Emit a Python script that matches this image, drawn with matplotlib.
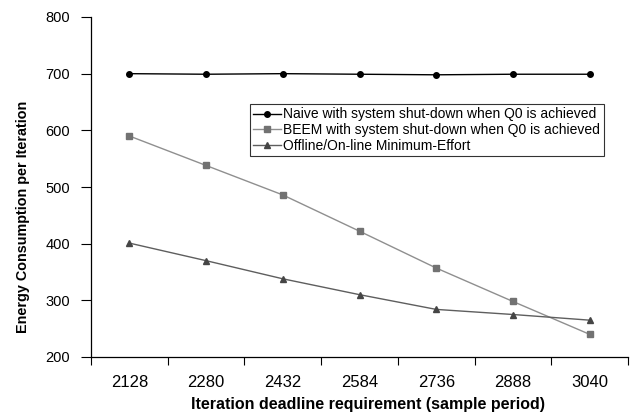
import matplotlib
matplotlib.use("Agg")
import matplotlib.pyplot as plt
import numpy as np

categories = ["2128", "2280", "2432", "2584", "2736", "2888", "3040"]
naive = [700, 699, 700, 699, 698, 699, 699]
beem = [590, 538, 486, 422, 357, 298, 240]
offline = [401, 370, 338, 310, 284, 275, 265]
labels = ["Naive with system shut-down when Q0 is achieved",
          "BEEM with system shut-down when Q0 is achieved",
          "Offline/On-line Minimum-Effort"]
yticks = [200, 300, 400, 500, 600, 700, 800]

plt.rcParams['font.family'] = ['Liberation Sans', 'DejaVu Sans']

W, H = 634, 418
L, R, T, B = 91, 628, 17, 357
fig = plt.figure(figsize=(W / 100, H / 100), dpi=100)
ax = fig.add_axes([L / W, (H - B) / H, (R - L) / W, (B - T) / H])

x = np.arange(len(categories))
ax.plot(x, naive, color='#000000', lw=1.0, marker='o', ms=4, mfc='#000000', mec='#000000', label=labels[0])
ax.plot(x, beem, color='#8f8f8f', lw=1.0, marker='s', ms=4, mfc='#727272', mec='#727272', label=labels[1])
ax.plot(x, offline, color='#5e5e5e', lw=1.0, marker='^', ms=4.5, mfc='#454545', mec='#454545', label=labels[2])

ax.set_xlim(-0.5, len(categories) - 0.5)
ax.set_ylim(200, 800)
ax.set_yticks(yticks)
ax.set_yticklabels([str(v) for v in yticks], fontsize=10.5)
ax.set_xticks(np.arange(len(categories) + 1) - 0.5)
ax.set_xticklabels([])
ax.set_xticks(x, minor=True)
ax.set_xticklabels(categories, minor=True, fontsize=12)
ax.tick_params(axis='x', which='major', direction='out', length=6, width=0.8)
ax.tick_params(axis='x', which='minor', length=0, pad=13)
ax.tick_params(axis='y', direction='out', length=7, width=0.8, pad=8)

for s in ['top', 'right']:
    ax.spines[s].set_visible(False)
for s in ['left', 'bottom']:
    ax.spines[s].set_linewidth(0.9)

ax.set_xlabel("Iteration deadline requirement (sample period)", fontsize=11.5, fontweight='bold', va='center')
ax.xaxis.set_label_coords((368 - L) / (R - L), (B - 404) / (B - T))
ax.set_ylabel("Energy Consumption per Iteration", fontsize=10.4, fontweight='bold', va='center')
ax.yaxis.set_label_coords((23 - L) / (R - L), (B - 217) / (B - T))

leg = ax.legend(loc='upper left', bbox_to_anchor=((250 - L) / (R - L), (B - 104) / (B - T)),
                fontsize=10, frameon=True, fancybox=False, edgecolor='black',
                handlelength=2.0, handletextpad=0.15, borderpad=0.25, labelspacing=0.12,
                borderaxespad=0)
leg.get_frame().set_linewidth(0.8)

fig.savefig("out.png", dpi=100)
